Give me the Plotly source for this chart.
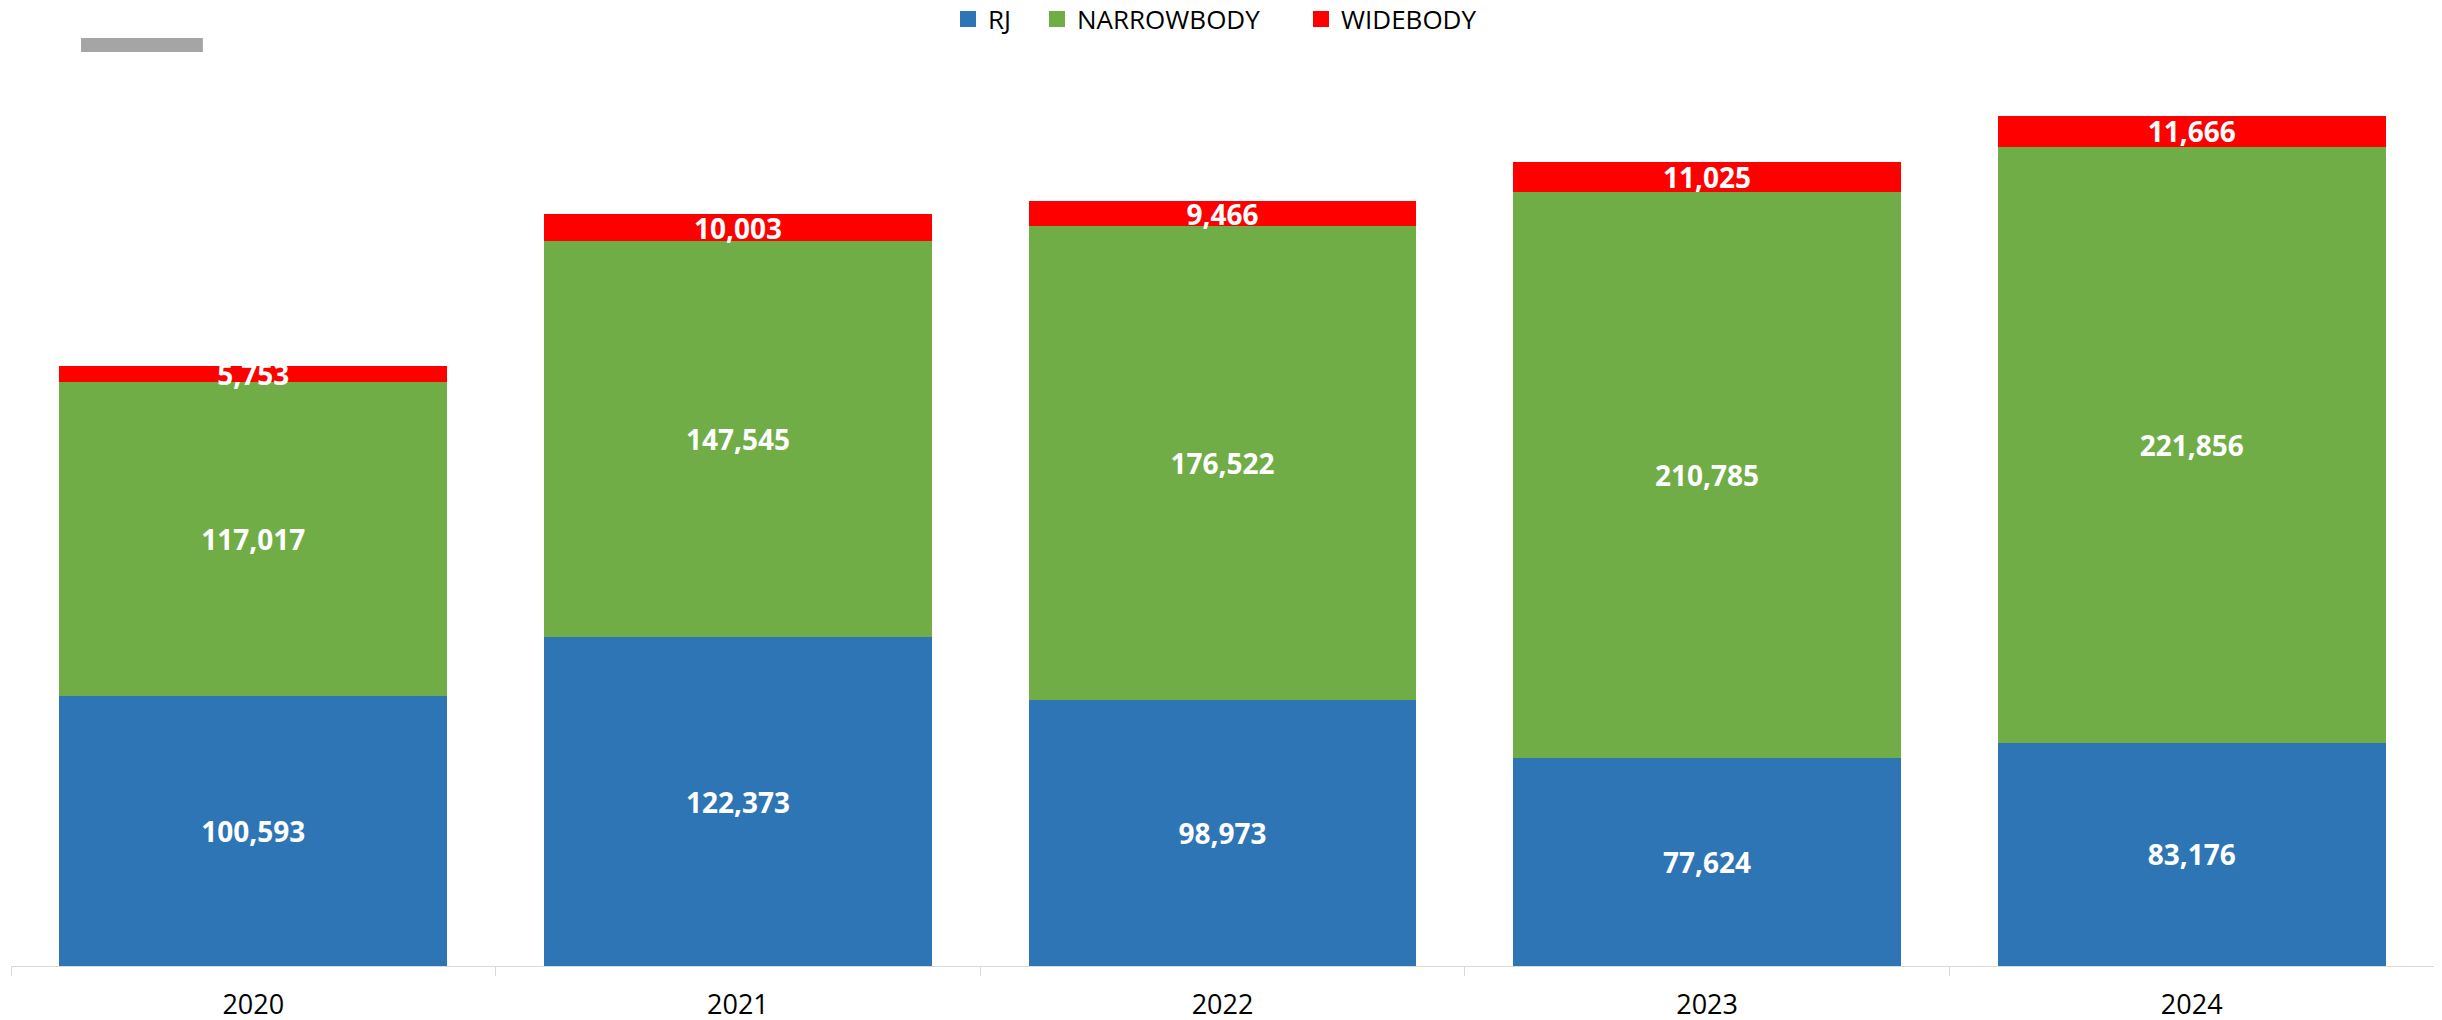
import plotly.graph_objects as go

# data
years = ['2020', '2021', '2022', '2023', '2024']
rj = [100593, 122373, 98973, 77624, 83176]
narrowbody = [117017, 147545, 176522, 210785, 221856]
widebody = [5753, 10003, 9466, 11025, 11666]

series = [
    ('RJ', rj, '#2E75B6', 'legend'),
    ('NARROWBODY', narrowbody, '#70AD47', 'legend2'),
    ('WIDEBODY', widebody, '#FF0000', 'legend3'),
]

font_family = 'Open Sans, DejaVu Sans, sans-serif'
W, H = 2434, 1012   # page body has an 8px margin

fig = go.Figure()

for name, values, color, leg in series:
    fig.add_trace(go.Bar(
        x=years,
        y=values,
        name=name,
        showlegend=False,
        marker={'color': color, 'line': {'width': 0}},
        text=[f'{v:,}' for v in values],
        textposition='inside',
        insidetextanchor='middle',
        constraintext='none',
        textfont={'family': font_family, 'size': 28, 'color': 'white', 'weight': 'bold'},
    ))
    # legend-only entry with a bigger square swatch
    fig.add_trace(go.Scatter(
        x=[None], y=[None],
        name=name,
        mode='markers',
        marker={'symbol': 'square', 'size': 16, 'color': color},
        legend=leg,
        hoverinfo='skip',
    ))

# separate legends so each entry sits where the reference has it
legend_centers = {'legend': 968, 'legend2': 1057, 'legend3': 1321}
legend_style = {}
for leg, cx in legend_centers.items():
    legend_style[leg] = {
        'orientation': 'h',
        'xref': 'container',
        'yref': 'container',
        'x': (cx - 8 - 20) / W,
        'xanchor': 'left',
        'y': 1 - 11 / H,
        'yanchor': 'middle',
        'font': {'size': 26, 'color': '#000000'},
        'itemsizing': 'trace',
        'itemwidth': 30,
        'borderwidth': 0,
        'bgcolor': 'rgba(0,0,0,0)',
    }

fig.update_layout(
    barmode='stack',
    bargap=0.2,
    width=W,
    height=H,
    margin={'l': 3, 'r': 8, 't': 72, 'b': 54, 'autoexpand': False},
    paper_bgcolor='white',
    plot_bgcolor='white',
    font={'family': font_family, 'color': '#000000'},
    showlegend=True,
    **legend_style,
)

fig.update_xaxes(
    showline=True,
    linecolor='#d9d9d9',
    linewidth=1,
    ticks='outside',
    tickson='boundaries',
    ticklen=9,
    tickcolor='#d9d9d9',
    tickfont={'size': 27, 'color': '#000000'},
    ticklabelstandoff=15,
    showgrid=False,
    automargin=False,
)
fig.update_yaxes(visible=False, range=[0, 330000], showgrid=False)

# grey placeholder bar top-left
fig.add_shape(
    type='rect',
    xref='paper', yref='paper',
    x0=0.0289, x1=0.0792, y0=1.0316, y1=1.0474,
    fillcolor='#A5A5A5', line={'width': 0},
)

fig.write_html('out.html')
